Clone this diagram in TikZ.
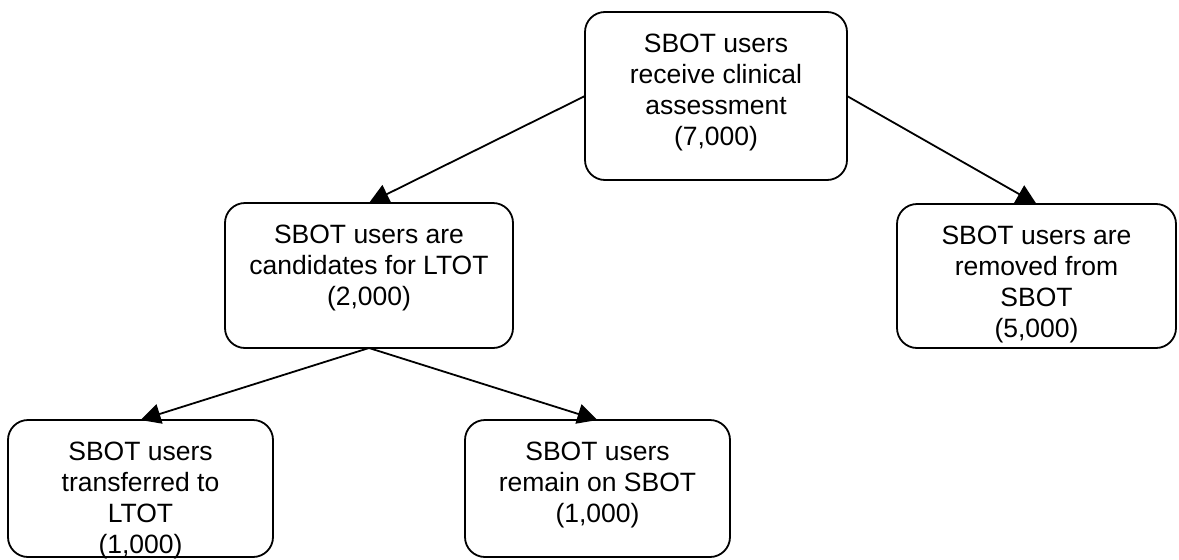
\documentclass[tikz,border=0pt]{standalone}
\usepackage{fontspec}
\setmainfont{Liberation Sans}
\usetikzlibrary{arrows.meta}
\newcommand{\bxt}[3]{\parbox[c][#2pt][t]{#1pt}{\centering\rule{0pt}{40pt}#3\par}}
\begin{document}
\begin{tikzpicture}[x=1pt,y=-1pt,
  box/.style={draw, line width=1.8pt, rounded corners=20pt, fill=white, inner sep=0pt, outer sep=0pt, font=\fontsize{26.5pt}{31pt}\selectfont},
  conn/.style={line width=1.8pt, -{Triangle[length=20pt,width=20pt]}}]
\useasboundingbox (0,0) rectangle (1179,560);
\node[box] (top) at (716,96) {\bxt{262}{168}{SBOT users\\receive clinical\\assessment\\(7,000)}};
\node[box] (mid) at (369,275.5) {\bxt{288}{145}{SBOT users are\\candidates for LTOT\\(2,000)}};
\node[box] (rem) at (1036.5,276) {\bxt{279}{144}{SBOT users are\\removed from\\SBOT\\(5,000)}};
\node[box] (tra) at (140.5,488.5) {\bxt{265}{137}{SBOT users\\transferred to\\LTOT\\(1,000)}};
\node[box] (stay) at (597.5,488.5) {\bxt{265}{137}{SBOT users\\remain on SBOT\\(1,000)}};
\draw[conn] (top.west) -- (mid.north);
\draw[conn] (top.east) -- (rem.north);
\draw[conn] (mid.south) -- (tra.north);
\draw[conn] (mid.south) -- (stay.north);
\end{tikzpicture}
\end{document}
